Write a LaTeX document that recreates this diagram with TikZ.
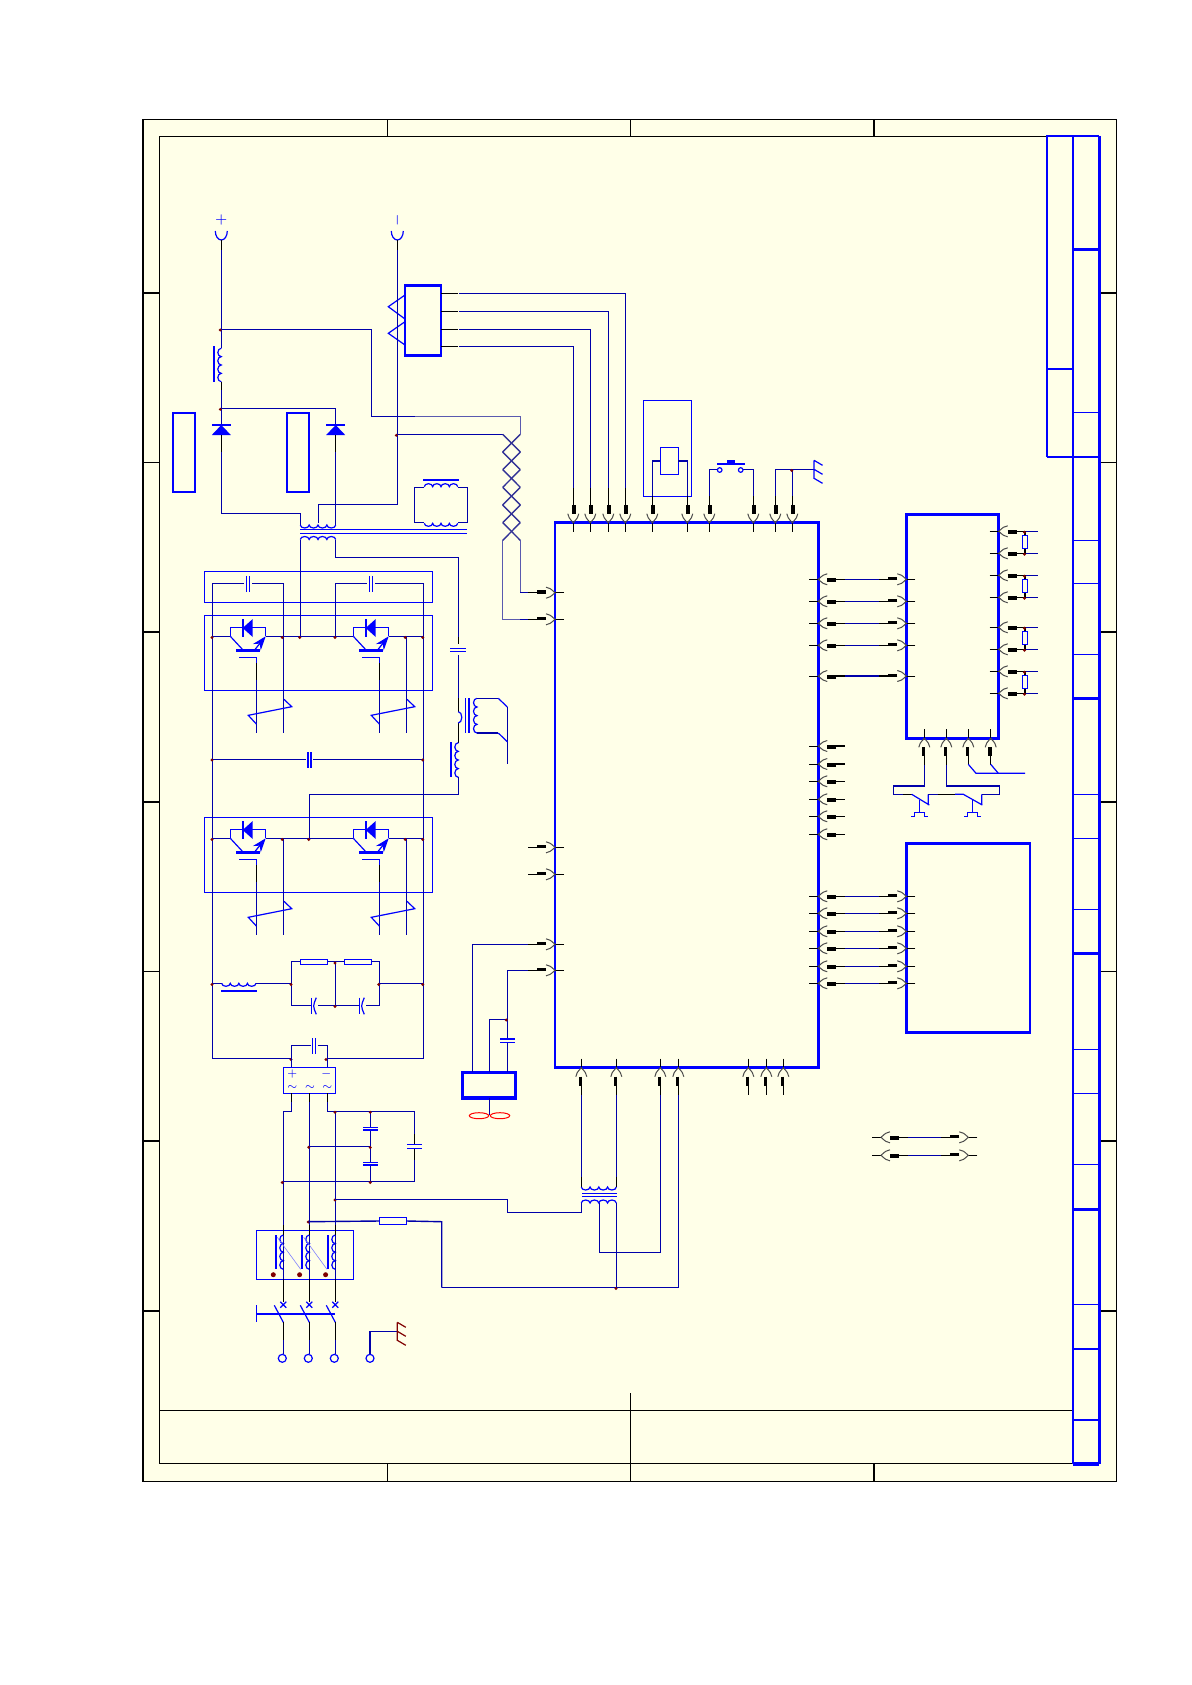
\documentclass[tikz,border=0pt]{standalone}
\usepackage{amsmath}
\usepackage{tikz}
\usetikzlibrary{arrows.meta, calc}
\definecolor{sheetcolor}{RGB}{255,255,232}
\definecolor{wirecolor}{RGB}{0,0,170}
\definecolor{twistcolor}{RGB}{50,50,150}
\definecolor{palewire}{RGB}{90,90,175}
\definecolor{symcolor}{RGB}{0,0,255}
\definecolor{dotcolor}{RGB}{128,0,0}
\tikzset{
    frameline/.style={draw=black, line width=0.6pt},
    wire/.style={wirecolor, line width=0.7pt},
    twist/.style={twistcolor, line width=0.7pt},
    palew/.style={palewire, line width=0.7pt},
    stub/.style={black, line width=0.7pt},
    sym/.style={symcolor, line width=0.6pt},
    symthick/.style={symcolor, line width=1.2pt},
    bigbox/.style={draw=symcolor, line width=1.3pt, anchor=north west, inner sep=0pt, outer sep=0pt},
    smallbox/.style={draw=symcolor, line width=0.6pt, anchor=north west, inner sep=0pt, outer sep=0pt},
    signtxt/.style={symcolor, font=\scriptsize, inner sep=0pt},
    pin/.pic={
        \draw[stub, line width=0.5pt] (-9,0) -- (0,0);
        \draw[black!70, line width=0.5pt] (9,-5.5) .. controls (5,-4.5) .. (0,0) .. controls (5,4.5) .. (9,5.5);
        \draw[black, line width=1.8pt] (9,0.7) -- (18,0.7);
        \draw[stub] (18,0) -- (27,0);
    },
    igbt/.pic={
        \draw[sym] (0,0) -- (0,-9) -- (35.4,-9) -- (35.4,0);
        \draw[symthick] (12.4,-17.3) -- (12.4,0.7);
        \fill[symcolor] (12.4,-8.3) -- (22.4,-17.3) -- (22.4,0.7) -- cycle;
        \draw[symcolor, line width=1.4pt] (5.7,14) -- (29.7,14);
        \draw[sym] (0,0) -- (13,14);
        \draw[sym, -{Stealth[length=7pt, width=5pt]}] (24,14) -- (35.4,0);
        \draw[sym] (8.7,21) -- (26,21) -- (26,27);
        \draw[stub] (26,27) -- (26,44);
        \draw[wire] (26,44) -- (26,96.4);
        \draw[wire] (53,0) -- (53,96.4);
        \draw[sym] (26,87.7) -- (18,79) -- (61.4,70.4) -- (53.7,63);
    },
    capv/.pic={
        \draw[symcolor, line width=0.7pt] (-1.6,-8) -- (-1.6,8) (1.6,-8) -- (1.6,8);
    },
    caph/.pic={
        \draw[symcolor, line width=0.7pt] (-8,-1.6) -- (8,-1.6) (-8,1.6) -- (8,1.6);
    },
    socket/.pic={
        \draw[sym] (-6,0) arc[start angle=180, end angle=0, x radius=6, y radius=9];
    }
}
% coils: x, y, length, turns, side
\newcommand{\hcoil}[5]{\draw[sym] (#1,#2) \foreach \k in {1,...,#4} {arc[start angle=180, end angle=#5, x radius={#3/(2*#4)}, y radius=3]};}
\newcommand{\vcoil}[5]{\draw[sym] (#1,#2) \foreach \k in {1,...,#4} {arc[start angle=#5, end angle=90, y radius={#3/(2*#4)}, x radius=3.5]};}
\newcommand{\earth}[3]{\draw[#3] (#1,#2) -- ++(0,18.5) (#1,#2) -- ++(8.5,5) ({#1},{#2+9}) -- ++(8.5,5) ({#1},{#2+18}) -- ++(8.5,5);}

\begin{document}
\begin{tikzpicture}[x=0.5pt, y=-0.5pt]
    \useasboundingbox (0,0) rectangle (1192,1685);
    \fill[white] (0,0) rectangle (1192,1685);

    % Cadre de la feuille
    \filldraw[frameline, fill=sheetcolor] (143,119.3) rectangle (1116.7,1481.5);
    \draw[frameline] (159.3,136.7) -- (1073,136.7);
    \draw[frameline] (159.3,136.7) -- (159.3,1463.5) -- (1073,1463.5);
    \draw[frameline] (159.3,1410.5) -- (1073,1410.5);
    \draw[frameline] (630.6,1393) -- (630.6,1463.5);
    \foreach \x in {387.6,630.6,874} {
        \draw[frameline] (\x,119.3) -- (\x,136.7);
        \draw[frameline] (\x,1463.5) -- (\x,1481.5);
    }
    \foreach \y in {293,462.5,632,802,971.5,1141,1311} {
        \draw[frameline] (143,\y) -- (159.3,\y);
        \draw[frameline] (1099.3,\y) -- (1116.7,\y);
    }

    % Cartouche
    \draw[symcolor, line width=1.2pt] (1046.7,456.7) -- (1046.7,136.3) -- (1099.3,136.3);
    \draw[symcolor, line width=1.5pt] (1099.3,136) -- (1099.3,1464);
    \draw[symcolor, line width=0.9pt] (1072.7,136) -- (1072.7,1464);
    \draw[symcolor, line width=2pt] (1072.7,1463.5) -- (1099.3,1463.5);
    \draw[symcolor, line width=0.9pt] (1046.7,368.7) -- (1072.7,368.7) (1046.7,456.7) -- (1099.3,456.7);
    \foreach \y in {250,698.7,953.7,1209} {\draw[symcolor, line width=1.5pt] (1072.7,\y) -- (1099.3,\y);}
    \foreach \y in {412.3,540.3,583.3,654.3,794.3,838.5,909.3,1049.3,1093.3,1164.3,1304.7,1349,1420} {\draw[symcolor, line width=0.6pt] (1072.7,\y) -- (1099.3,\y);}

    % Blocs principaux
    \node[bigbox, minimum width=131.65pt, minimum height=272.5pt] (mcu) at (555,522.7) {};
    \node[bigbox, minimum width=46.2pt, minimum height=112pt] (drv) at (906.3,514.3) {};
    \node[bigbox, minimum width=61.85pt, minimum height=94.5pt] (lcd) at (906.3,843.3) {};
    \node[bigbox, minimum width=18pt, minimum height=35.2pt] (hall) at (405,285.3) {};
    \node[bigbox, minimum width=26.7pt, minimum height=12.85pt, line width=1.6pt] (fan) at (462.3,1072.3) {};
    \foreach \x/\n in {172.7/rca,286.7/rcb} {
        \node[bigbox, minimum width=11.2pt, minimum height=39.6pt, line width=0.9pt] (\n) at (\x,412.7) {};
    }
    \node[smallbox, minimum width=24.2pt, minimum height=48.2pt] (relay) at (643.3,400.3) {};
    \node[smallbox, minimum width=9pt, minimum height=13.7pt] (relayc) at (660.3,447.3) {};
    \node[smallbox, minimum width=114pt, minimum height=15.3pt] (snub) at (204.3,571.7) {};
    \node[smallbox, minimum width=114pt, minimum height=37.5pt] (igbta) at (204.3,615.3) {};
    \node[smallbox, minimum width=114pt, minimum height=37.5pt] (igbtb) at (204.3,817.3) {};
    \node[smallbox, minimum width=26.2pt, minimum height=13pt] (bridge) at (283.3,1067.3) {};
    \node[smallbox, minimum width=48.7pt, minimum height=24.5pt] (react) at (256.3,1230.3) {};
    \node[smallbox, minimum width=13.7pt, minimum height=3.7pt] (fuse) at (379.3,1217.3) {};

    % Connecteurs du bloc principal
    \foreach \x [count=\i] in {573.3,590.3,608.3,625.3,652.3,687.3,709.3,753.3,775.3,792.3} {
        \coordinate (t\i) at (\x,522.7);
        \pic[rotate=90] at (t\i) {pin};
    }
    \foreach \x [count=\i] in {581.3,616.3,660.3,678.3,748.3,766.3,783.3} {
        \coordinate (b\i) at (\x,1067.7);
        \pic[rotate=-90] at (b\i) {pin};
    }
    \foreach \y [count=\i] in {592.7,619.3,847.3,874.3,944.3,970.3} {
        \coordinate (l\i) at (555,\y);
        \pic[rotate=180] at (l\i) {pin};
    }
    \foreach \y [count=\i] in {579.3,601.3,623.3,645.3,676,746,764,781.3,799.3,816.3,834.3,896.3,913.3,931.3,948.3,966.3,983.3} {
        \coordinate (r\i) at (818.3,\y);
        \pic at (r\i) {pin};
    }
    % Liaisons vers les blocs de droite
    \foreach \i in {1,...,5} {
        \coordinate (a\i) at (drv.west |- r\i);
        \pic[rotate=180] at (a\i) {pin};
        \draw[wire] ($(r\i)+(27,0)$) -- ($(a\i)+(-27,0)$);
    }
    \foreach \i in {12,...,17} {
        \coordinate (a\i) at (lcd.west |- r\i);
        \pic[rotate=180] at (a\i) {pin};
        \draw[wire] ($(r\i)+(27,0)$) -- ($(a\i)+(-27,0)$);
    }
    % Liaisons isolees
    \foreach \y/\n in {1137.3/p,1155.3/q} {
        \coordinate (\n a) at (881,\y);
        \coordinate (\n b) at (968.3,\y);
        \pic at (\n a) {pin};
        \pic[rotate=180] at (\n b) {pin};
        \draw[wire] ($(\n a)+(27,0)$) -- ($(\n b)+(-27,0)$);
    }

    % Sorties du bloc drv avec resistances
    \foreach \ya/\yb [count=\i] in {531.3/553.3,575.3/597.3,627.3/649.3,671.3/693.3} {
        \coordinate (ra\i) at (998.7,\ya);
        \coordinate (rb\i) at (998.7,\yb);
        \pic at (ra\i) {pin};
        \pic at (rb\i) {pin};
        \draw[wire] ($(ra\i)+(27,0)$) -- (1038,\ya);
        \draw[wire] ($(rb\i)+(27,0)$) -- (1038,\yb);
        \draw[stub] (1025,\ya) -- (1025,\yb);
        \node[smallbox, fill=sheetcolor, minimum width=2.7pt, minimum height=6.7pt] (res\i) at (1022.3,\ya+4) {};
        \fill[dotcolor] (1024.5,\ya+1) circle[radius=1.6] (1024.5,\yb+1) circle[radius=1.6];
    }

    % Entrees basses de drv et transistors
    \foreach \x [count=\i] in {924.3,946.3,968.3,990.7} {
        \coordinate (d\i) at (\x,738.3);
        \pic[rotate=-90] at (d\i) {pin};
    }
    \draw[wire] ($(d1)+(0,27)$) |- (893.7,786) -- (893.7,794.3) -- (903.3,794.3);
    \draw[stub] (903.3,794.3) -- (911.7,794.3);
    \draw[sym] (911.7,794.3) -- (929.3,805) (928.3,794.3) -- (928.3,805);
    \draw[wire] (928.3,794.3) -- (937.7,794.3);
    \draw[stub] (937.7,794.3) -- (955,794.3);
    \draw[sym] (955,794.3) -- (963.3,794.3) -- (982.3,805) (981.7,794.3) -- (981.7,805);
    \draw[wire] (981.7,794.3) -- (999.3,794.3) -- (999.3,786) -| ($(d2)+(0,27)$);
    \foreach \x in {919.3,972.3} {
        \draw[sym] (\x,800) -- (\x,812.3) ({\x-5},812.3) -- ({\x+5.5},812.3) ({\x-5},812.3) -- ({\x-5},816.3) -- ({\x-8.5},816.3) ({\x+5.5},812.3) -- ({\x+5.5},816.3) -- ({\x+9},816.3);
    }
    \draw[sym] ($(d3)+(0,26)$) -- (976,773.3) -- (1025,773.3);
    \draw[sym] ($(d4)+(0,26)$) -- (998.3,773.3);

    % Sortie du capteur
    \foreach \y/\p [count=\i] in {293.3/t4,311.3/t3,329.3/t2,346.3/t1} {
        \coordinate (h\i) at (441,\y);
        \draw[stub] (h\i) -- (458,\y);
        \draw[wire] (459,\y) -| ($(\p)+(0,-35)$);
        \draw[stub] ($(\p)+(0,-35)$) -- ($(\p)+(0,-27)$);
    }
    \draw[sym] (405,295) -- (388.3,306.7) -- (405,319) (405,321.7) -- (388.3,333.3) -- (405,345);

    % Relais et bouton
    \draw[wire] ($(t5)+(0,-27)$) |- (relayc.west);
    \draw[wire] ($(t6)+(0,-27)$) |- (relayc.east);
    \draw[wire] ($(t7)+(0,-27)$) |- (717.3,469.3);
    \draw[wire] ($(t8)+(0,-27)$) |- (743,469.3);
    \draw[sym] (719.7,470) circle[radius=2.3] (740.7,470) circle[radius=2.3];
    \draw[symthick] (717,464) -- (745,464);
    \fill[symcolor] (727,460) rectangle (735,464);
    \draw[wire] ($(t9)+(0,-27)$) |- (814,469.3);
    \draw[wire] ($(t10)+(0,-27)$) -- (792.3,469.3);
    \fill[dotcolor] (791.7,470.5) circle[radius=1.6];
    \earth{814}{460.3}{sym}

    % Bornes continues et capteur de courant
    \node[signtxt] (plus) at (221.3,220) {$+$};
    \node[signtxt, rotate=90] (minus) at (397.3,220) {$-$};
    \pic at (221.3,231) {socket};
    \pic at (397.3,231) {socket};
    \draw[stub] (221.3,240) -- (221.3,250) (397.3,240) -- (397.3,250);
    \draw[wire] (221.3,250) -- (221.3,348.3);
    \draw[wire] (397.3,250) -- (397.3,504.3) -- (318.3,504.3) -- (318.3,523.3);
    \draw[wire] (221.3,329.3) -- (371.7,329.3) -- (371.7,416.7) -- (415,416.7);
    \draw[palew] (415,416.7) -- (520.3,416.7) -- (520.3,434.3);
    \draw[wire] (397.3,434.3) -- (502.7,434.3);
    \vcoil{221.3}{348.3}{33.4}{4}{270}
    \draw[symthick] (214,346.3) -- (214,381.7);
    \draw[stub] (221.3,381.7) -- (221.3,390);
    \draw[wire] (221.3,390) -- (221.3,425);
    \draw[wire] (221.3,408.7) -- (335.7,408.7) -- (335.7,425);
    \foreach \x in {221.3,335.7} {
        \draw[symthick] ({\x-9.5},425) -- ({\x+9.5},425);
        \fill[symcolor] (\x,425) -- ({\x+9.5},435) -- ({\x-9.5},435) -- cycle;
        \draw[stub] (\x,435) -- (\x,452);
    }
    \draw[wire] (221.3,452) -- (221.3,513.3) -- (300.3,513.3) -- (300.3,525);
    \draw[wire] (335.7,452) -- (335.7,525);
    \foreach \x/\y in {220.3/330,220.3/409.3,396.3/435.3} {\fill[dotcolor] (\x,\y) circle[radius=1.6];}

    % Paire torsadee
    \foreach \i in {0,...,5} {
        \draw[twist] (502.7,{434.3+17.67*\i}) -- (520.3,{434.3+17.67*(\i+1)});
        \draw[twist] (520.3,{434.3+17.67*\i}) -- (502.7,{434.3+17.67*(\i+1)});
    }
    \draw[palew] (520.3,540.3) -- (520.3,592.7);
    \draw[wire] (520.3,592.7) -- ($(l1)+(-27,0)$);
    \draw[palew] (502.7,540.3) -- (502.7,619.3) -- (520,619.3);
    \draw[wire] (520,619.3) -- ($(l2)+(-27,0)$);

    % Transformateur de puissance
    \hcoil{300.3}{525}{35.4}{4}{0}
    \hcoil{300.3}{539.5}{35.4}{4}{360}
    \draw[sym] (300.3,529.3) -- (466.7,529.3) (300.3,533.3) -- (466.7,533.3);
    \hcoil{424.3}{486.7}{33.4}{4}{360}
    \hcoil{424.3}{523.3}{33.4}{4}{0}
    \draw[symthick] (423,479.7) -- (459,479.7);
    \draw[wire] (424.3,487.7) -- (414.7,487.7) -- (414.7,522.3) -- (424.3,522.3);
    \draw[wire] (457.7,487.7) -- (467.3,487.7) -- (467.3,522.3) -- (457.7,522.3);
    \draw[wire] (300.3,539.5) -- (300.3,637);
    \draw[wire] (335.7,539.5) -- (335.7,557.3) -- (458.3,557.3) -- (458.3,637);
    \draw[stub] (458.3,637) -- (458.3,644);
    \pic at (458.3,649.8) {caph};
    \draw[wire] (458.3,655) -- (458.3,698.3);
    \draw[stub] (458.3,698.3) -- (458.3,711.7) (458.3,723) -- (458.3,742.7);
    \vcoil{458.3}{711.7}{11.3}{1}{-90}
    \draw[sym] (465.3,698.3) -- (465.3,733) (469,698.3) -- (469,733);
    \vcoil{477}{698.3}{34.7}{4}{270}
    \draw[wire] (477,698.3) -- (498.3,698.3);
    \draw[sym] (498.3,698.3) -- (507.3,707);
    \draw[wire] (507.3,707) -- (507.3,763.7);
    \draw[wire] (477,733) -- (498.3,733);
    \draw[sym] (498.3,733) -- (507.3,741.7);
    \vcoil{458.3}{742.7}{34.6}{4}{270}
    \draw[symthick] (451,742) -- (451,777.3);
    \draw[wire] (458.3,777.3) -- (458.3,794.3) -- (309.3,794.3) -- (309.3,838.3);

    % Condensateurs du haut
    \draw[wire] (212.3,583.3) -- (244,583.3) (252,583.3) -- (283.3,583.3) -- (283.3,636.3);
    \pic at (247.8,583.8) {capv};
    \draw[wire] (335.7,636.3) -- (335.7,583.3) -- (367,583.3) (375,583.3) -- (423.3,583.3);
    \pic at (370.8,583.8) {capv};

    % Rails et ponts
    \draw[wire] (212.3,583.3) -- (212.3,1058.3) -- (291.3,1058.3);
    \draw[wire] (423.3,583.3) -- (423.3,1058.3) -- (327.3,1058.3);
    \foreach \y in {636.3,838.3} {
        \pic at (230.3,\y) {igbt};
        \pic at (353.3,\y) {igbt};
        \draw[wire] (212.3,\y) -- (230.3,\y) (265.7,\y) -- (353.3,\y) (388.7,\y) -- (423.3,\y);
    }
    \draw[wire] (212.3,759.3) -- (306,759.3) (313,759.3) -- (423.3,759.3);
    \pic at (309.5,760) {capv};
    \foreach \x/\y in {212/637.5,282.3/637.5,299.7/637.5,335/637.5,405.3/637.5,422.7/637.5,212/760,422.7/760,
        212/839.5,282.3/839.5,308.7/839.5,405.3/839.5,422.7/839.5} {\fill[dotcolor] (\x,\y) circle[radius=1.6];}

    % Filtre de sortie
    \draw[wire] (212.3,983.3) -- (221.7,983.3);
    \hcoil{221.7}{983.3}{34.3}{4}{0}
    \draw[symthick] (221,990.7) -- (256.7,990.7);
    \draw[wire] (256,983.3) -- (291.3,983.3) (379.3,983.3) -- (423.3,983.3);
    \draw[wire] (300.3,961.3) -- (291.3,961.3) -- (291.3,1005.3) -- (311,1005.3);
    \draw[wire] (327.7,961.3) -- (344.3,961.3) (335.3,961.3) -- (335.3,1005.3);
    \draw[wire] (318,1005.3) -- (359,1005.3) (366,1005.3) -- (379.3,1005.3) -- (379.3,961.3) -- (371.7,961.3);
    \foreach \x/\n in {300.3/ra,344.3/rb} {
        \node[smallbox, minimum width=13.7pt, minimum height=2.7pt] (\n) at (\x,959.3) {};
    }
    \foreach \x in {311.3,359.3} {
        \draw[sym] (\x,997.7) -- (\x,1014.3);
        \draw[sym] ({\x+5},997.7) .. controls ({\x+1.5},1006) .. ({\x+5},1014.3);
    }
    \foreach \x/\y in {212/984.5,291/984.5,335/963,335/1006.5,378.7/984.5,422.7/984.5,291/1059.5,326/1059.5} {\fill[dotcolor] (\x,\y) circle[radius=1.6];}

    % Pont redresseur
    \draw[wire] (291.3,1058.3) -- (291.3,1045.3) -- (310.5,1045.3) (317.5,1045.3) -- (327.3,1045.3) -- (327.3,1058.3);
    \pic at (314,1046) {capv};
    \draw[wire] (291.3,1058.3) -- (291.3,1067.3) (327.3,1058.3) -- (327.3,1067.3);
    \node[signtxt, font=\tiny] (bplus) at (292.3,1073.7) {$+$};
    \node[signtxt, font=\tiny] (bminus) at (326.3,1073.7) {$-$};
    \foreach \x/\n in {292.3/ta,310/tb,327.3/tc} {\node[signtxt, font=\tiny] (\n) at (\x,1088) {$\sim$};}
    \draw[stub] (291.3,1093.3) -- (291.3,1102) (309.3,1093.3) -- (309.3,1102) (327.3,1093.3) -- (327.3,1102);
    \draw[wire] (291.3,1102) -- (291.3,1111.3) -- (283.3,1111.3) -- (283.3,1225);
    \draw[wire] (309.3,1102) -- (309.3,1225);
    \draw[wire] (327.3,1102) -- (327.3,1111.3) -- (414.3,1111.3) -- (414.3,1134);
    \draw[wire] (335.3,1111.3) -- (335.3,1225);
    \draw[wire] (370.3,1111.3) -- (370.3,1127.3) (370.3,1130) -- (370.3,1162.3) (370.3,1165) -- (370.3,1181.3);
    \draw[wire] (309.3,1146.7) -- (370.3,1146.7);
    \draw[wire] (283.3,1181.3) -- (414.3,1181.3) -- (414.3,1160);
    \draw[stub] (414.3,1134) -- (414.3,1144.7) (414.3,1148.3) -- (414.3,1160);
    \draw[sym] (363,1127.3) -- (378,1127.3) (363,1130) -- (378,1130);
    \draw[sym] (363,1162.3) -- (378,1162.3) (363,1165) -- (378,1165);
    \draw[sym] (407,1144.7) -- (422,1144.7) (407,1148.3) -- (422,1148.3);
    \foreach \x/\y in {335/1112.3,370.3/1112.3,308.7/1147.3,370.3/1147.5,282.3/1182.5,370.3/1182.5,335/1200,308.3/1222} {\fill[dotcolor] (\x,\y) circle[radius=1.6];}

    % Ventilateur
    \draw[wire] (472.7,1072.3) |- ($(l5)+(-27,0)$);
    \draw[wire] (489.3,1072.3) |- (507.3,1019.3);
    \draw[wire] (507.3,1072.3) -- (507.3,1042.3) (507.3,1039) |- ($(l6)+(-27,0)$);
    \draw[sym] (500,1039) -- (515,1039) (500,1042.3) -- (515,1042.3);
    \fill[dotcolor] (506.3,1020) circle[radius=1.6];
    \draw[wire] (489.3,1098) -- (489.3,1115);
    \draw[red, line width=0.5pt] (479,1115.7) ellipse[x radius=9.7, y radius=3];
    \draw[red, line width=0.5pt] (500,1115.7) ellipse[x radius=9.7, y radius=3];

    % Transformateur auxiliaire
    \draw[wire] ($(b1)+(0,27)$) -- (581.3,1176.7);
    \draw[wire] ($(b2)+(0,27)$) -- (616.3,1176.7);
    \draw[stub] (581.3,1176.7) -- (581.3,1187) (616.3,1176.7) -- (616.3,1187);
    \hcoil{581.3}{1187}{35}{4}{0}
    \hcoil{581.3}{1203}{35}{4}{360}
    \draw[sym] (582,1193.3) -- (617,1193.3) (582,1196.5) -- (617,1196.5);
    \draw[wire] (581.3,1203) -- (581.3,1212.3) -- (507.3,1212.3) -- (507.3,1199.3) -- (335,1199.3);
    \draw[wire] (599.3,1203) -- (599.3,1252.3) -- (660.3,1252.3) -- ($(b3)+(0,27)$);
    \draw[wire] (616.3,1203) -- (616.3,1287.7);
    \draw[wire] (441.7,1287.7) -- (678.3,1287.7) -- ($(b4)+(0,27)$);
    \fill[dotcolor] (616,1288.5) circle[radius=1.6];
    \draw[wire] (308.3,1221.7) -- (fuse.west) (fuse.east) -- (441.7,1221.7) -- (441.7,1287.7);

    % Selfs d'entree et sectionneur
    \foreach \x/\xb in {283.3/275.7,309.3/302,335.3/328} {
        \vcoil{\x}{1235}{34.3}{4}{270}
        \draw[symthick] (\xb,1235) -- (\xb,1269.3);
        \fill[dotcolor] ({\xb-2.4},1274.7) circle[radius=2.5];
        \draw[stub] (\x,1225) -- (\x,1235);
        \draw[wire] (\x,1235) -- (\x,1279.3);
        \draw[stub] (\x,1279.3) -- (\x,1301.7);
        \draw[sym] ({\x-3},1301.7) -- ({\x+3},1307.7) ({\x+3},1301.7) -- ({\x-3},1307.7);
        \draw[sym] ({\x-9},1305.3) -- (\x,1322.3);
        \draw[stub] (\x,1322.3) -- (\x,1340);
        \draw[wire] (\x,1340) -- (\x,1354);
        \draw[symcolor, line width=0.6pt] ({\x-1},1358.3) circle[radius=4];
    }
    \draw[symcolor!50, line width=0.3pt] (277.3,1237.3) -- (300.7,1269.3) (303.7,1237.3) -- (327,1269.3);
    \draw[sym] (256.3,1305) -- (256.3,1322.3) (256.3,1314) -- (335.3,1314);
    \draw[symcolor, line width=0.6pt] (370,1358.3) circle[radius=4];
    \draw[wire] (370,1354) -- (370,1331.3) -- (397.3,1331.3);
    \earth{397.3}{1322.3}{dotcolor, line width=0.6pt}
\end{tikzpicture}
\end{document}
